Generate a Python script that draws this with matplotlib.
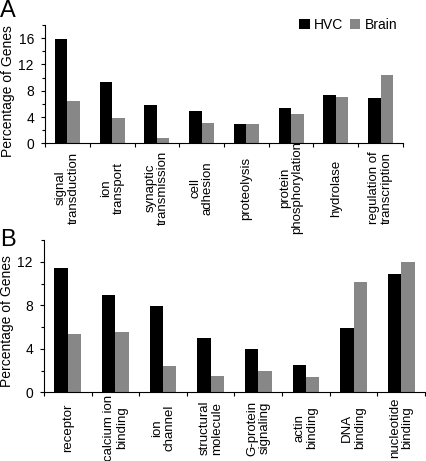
import numpy as np
import matplotlib
matplotlib.use("Agg")
import matplotlib.pyplot as plt
from matplotlib.ticker import MultipleLocator
from matplotlib import transforms

plt.rcParams["font.family"] = ["Liberation Sans", "DejaVu Sans"]

# pannello A: processi biologici
CAT_A = ["signal\ntransduction", "ion\ntransport", "synaptic\ntransmission",
         "cell\nadhesion", "proteolysis", "protein\nphosphorylation",
         "hydrolase", "regulation of\ntranscription"]
HVC_A = [15.8, 9.4, 5.9, 4.9, 3.0, 5.4, 7.4, 6.9]
BRAIN_A = [6.4, 3.9, 0.8, 3.1, 3.0, 4.5, 7.0, 10.4]

# pannello B: funzioni molecolari
CAT_B = ["receptor", "calcium ion\nbinding", "ion\nchannel", "structural\nmolecule",
         "G-protein\nsignaling", "actin\nbinding", "DNA\nbinding", "nucleotide\nbinding"]
HVC_B = [11.4, 8.9, 7.9, 5.0, 4.0, 2.5, 5.9, 10.9]
BRAIN_B = [5.4, 5.5, 2.4, 1.5, 2.0, 1.4, 10.1, 12.0]

NERO = "#000000"
GRIGIO = "#878787"
W, H = 427, 461


def pannello(fig, rect, cat, hvc, brain, ymax, y_lab_px, ylab_xy):
    ax = fig.add_axes(rect)
    x = np.arange(len(cat)) + 0.5
    ax.bar(x - 0.14, hvc, width=0.28, color=NERO, label="HVC")
    ax.bar(x + 0.14, brain, width=0.28, color=GRIGIO, label="Brain")
    ax.set_xlim(0, len(cat))
    ax.set_ylim(0, ymax)
    ax.set_xticks(np.arange(len(cat) + 1))
    ax.set_xticklabels([])
    ax.yaxis.set_major_locator(MultipleLocator(4))
    ax.yaxis.set_minor_locator(MultipleLocator(2))
    ax.tick_params(axis="x", direction="out", length=3, width=0.8)
    ax.tick_params(axis="y", which="major", direction="out", length=3, width=0.8,
                   labelsize=10, pad=5)
    ax.tick_params(axis="y", which="minor", direction="out", length=2, width=0.8)
    for s in ["top", "right"]:
        ax.spines[s].set_visible(False)
    for s in ["left", "bottom"]:
        ax.spines[s].set_linewidth(0.8)
    ax.set_ylabel("Percentage of Genes", fontsize=10)
    ax.yaxis.set_label_coords(*ylab_xy)
    # etichette categorie ruotate, centrate sotto ogni gruppo
    tr = transforms.blended_transform_factory(ax.transData, fig.transFigure)
    for xi, nome in zip(x, cat):
        ax.text(xi, 1 - y_lab_px / H, nome, transform=tr, rotation=90,
                ha="center", va="center", multialignment="center",
                fontsize=9.5, linespacing=1.05)
    return ax


fig = plt.figure(figsize=(W / 100, H / 100), dpi=100)

ax_a = pannello(fig, [45 / W, 1 - 143.5 / H, 358 / W, 118.5 / H],
                CAT_A, HVC_A, BRAIN_A, 18, 188, (-0.085, 0.443))
ax_b = pannello(fig, [44 / W, 1 - 392.3 / H, 381 / W, 152.3 / H],
                CAT_B, HVC_B, BRAIN_B, 14, 428, (-0.078, 0.465))

ax_a.legend(loc="center left", bbox_to_anchor=(0.71, 1.0), ncol=2, frameon=False,
            fontsize=10, handlelength=0.75, handleheight=0.75, handletextpad=0.3,
            columnspacing=0.5, borderpad=0, borderaxespad=0)

fig.text(0.0, 1 - 0 / H, "A", fontsize=17, va="top", ha="left")
fig.text(0.0, 1 - 229 / H, "B", fontsize=17, va="top", ha="left")

fig.savefig("out.png", dpi=100)
